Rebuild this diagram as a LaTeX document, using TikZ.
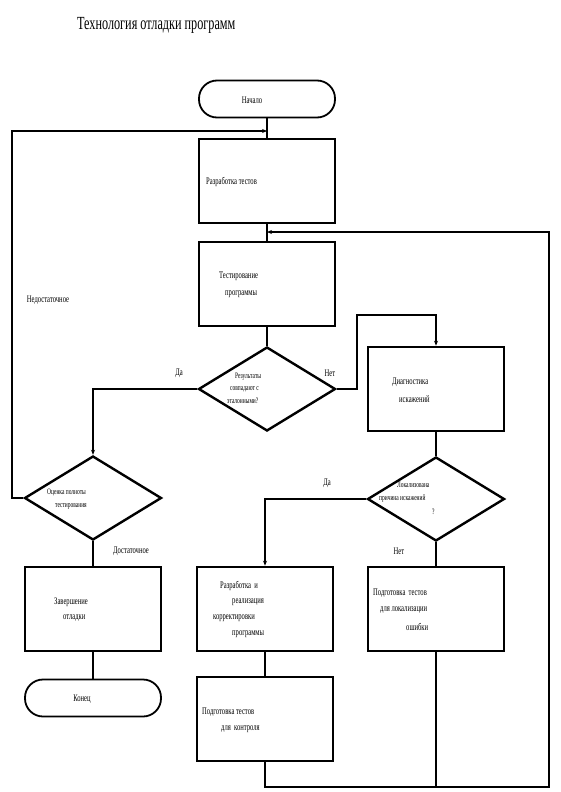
\documentclass[tikz,border=0pt]{standalone}
\usepackage{fontspec}
\setmainfont{Liberation Serif}[FakeStretch=0.66]
\usetikzlibrary{shapes.geometric,arrows.meta}
\begin{document}
\begin{tikzpicture}[x=1pt,y=-1pt,
  box/.style={draw,line width=2.6pt,minimum width=136pt,minimum height=84pt,inner sep=0pt},
  decision/.style={diamond,draw,line width=2.4pt,minimum width=137pt,minimum height=84pt,inner sep=0pt},
  term/.style={draw,line width=1.8pt,rounded corners=18pt,minimum width=136pt,minimum height=37pt,inner sep=0pt},
  conn/.style={line width=2.6pt},
  arr/.style={conn,-{Stealth[length=5pt,width=4pt]}},
  txt/.style={anchor=west,inner sep=0pt,font=\fontsize{10}{12}\selectfont},
  small/.style={anchor=west,inner sep=0pt,font=\fontsize{8.3}{9}\selectfont},
  lbl/.style={inner sep=0pt,font=\fontsize{10}{12}\selectfont}]
\useasboundingbox[fill=white] (0,0) rectangle (561,792);

\node[anchor=west,inner sep=0pt,font=\fontsize{18.5}{20}\selectfont] (title) at (77,25) {Технология отладки программ};

% shapes
\node[term] (start) at (267,99) {};
\node[box] (b1) at (267,181) {};
\node[box] (b2) at (267,284) {};
\node[decision] (d1) at (267,389) {};
\node[box] (b3) at (436,389) {};
\node[decision] (d2) at (93,498) {};
\node[decision] (d3) at (436,499) {};
\node[box] (b4) at (93,609) {};
\node[term] (stop) at (93,698) {};
\node[box] (b5) at (265,609) {};
\node[box] (b6) at (265,719) {};
\node[box] (b7) at (436,609) {};

% texts
\node[lbl] (t0) at (252,100) {Начало};
\node[txt] (t1) at (206,182) {Разработка тестов};
\node[txt] (t2a) at (219,276) {Тестирование};
\node[txt] (t2b) at (225,294) {программы};
\node[small] (t3a) at (235,377) {Результаты};
\node[small] (t3b) at (230,389) {совпадают с};
\node[small] (t3c) at (227,401) {эталонными?};
\node[txt] (t4a) at (392,382) {Диагностика};
\node[txt] (t4b) at (399,399) {искажений};
\node[small] (t5a) at (47,493) {Оценка полноты};
\node[small] (t5b) at (55,506) {тестирования};
\node[small] (t6a) at (397,485) {Локализована};
\node[small] (t6b) at (379,499) {причина искажений};
\node[small] (t6c) at (432,512) {?};
\node[txt] (t7a) at (54,602) {Завершение};
\node[txt] (t7b) at (63,618) {отладки};
\node[lbl] (t8) at (82,699) {Конец};
\node[txt] (t9a) at (220,586) {Разработка \ и};
\node[txt] (t9b) at (232,602) {реализация};
\node[txt] (t9c) at (213,618) {корректировки};
\node[txt] (t9d) at (232,634) {программы};
\node[txt] (t10a) at (202,712) {Подготовка тестов};
\node[txt] (t10b) at (221,729) {для \ контроля};
\node[txt] (t11a) at (373,593) {Подготовка \ тестов};
\node[txt] (t11b) at (380,610) {для локализации};
\node[txt] (t11c) at (406,627) {ошибки};

% labels
\node[lbl] (l1) at (179,373) {Да};
\node[lbl] (l2) at (330,373) {Нет};
\node[lbl] (l3) at (48,300) {Недостаточное};
\node[lbl] (l4) at (131,551) {Достаточное};
\node[lbl] (l5) at (327,483) {Да};
\node[lbl] (l6) at (399,551) {Нет};

% junction coordinates
\coordinate (j1) at (267,131);
\coordinate (j2) at (267,232);

% connectors
\draw[conn] (start.south) -- (b1.north);
\draw[conn] (b1.south) -- (b2.north);
\draw[conn] (b2.south) -- (d1.north);
\draw[arr] (d1.east) -- (357,389) -- (357,315) -- (b3.north |- 0,315) -- (b3.north);
\draw[arr] (d1.west) -- (93,389) -- (d2.north);
\draw[arr] (d2.west) -- (12,498) -- (12,131) -- (j1);
\draw[conn] (d2.south) -- (b4.north);
\draw[conn] (b4.south) -- (stop.north);
\draw[conn] (b3.south) -- (d3.north);
\draw[arr] (d3.west) -- (b5.north |- d3.west) -- (b5.north);
\draw[conn] (d3.south) -- (b7.north);
\draw[conn] (b5.south) -- (b6.north);
\draw[arr] (b6.south) -- (265,787) -- (549,787) -- (549,232) -- (j2);
\draw[conn] (b7.south) -- (b7.south |- 0,787);
\end{tikzpicture}
\end{document}
